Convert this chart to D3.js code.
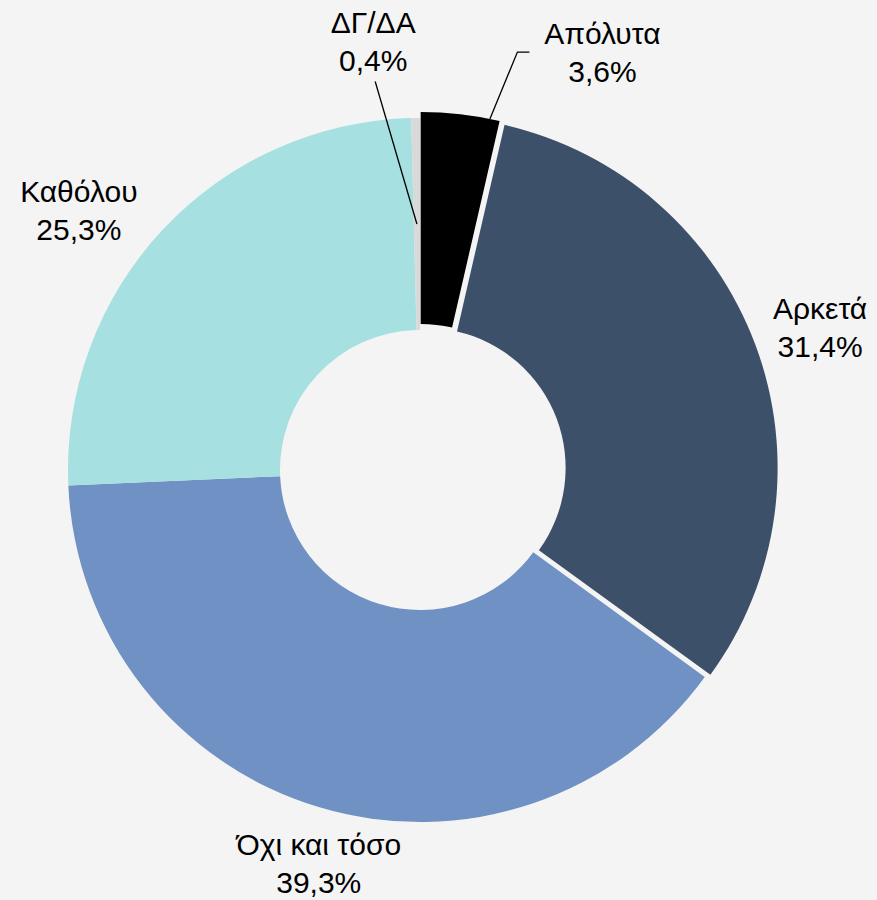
<!DOCTYPE html>
<html>
<head>
<meta charset="utf-8">
<script src="https://cdn.jsdelivr.net/npm/d3@7"></script>
<style>
  html, body { margin: 0; padding: 0; background: #f4f4f4; }
  svg { display: block; }
  .label { font-family: "Liberation Sans", Arial, sans-serif; font-size: 30px; fill: #000; }
</style>
</head>
<body>
<div class="container"></div>
<script>
const categories = ['Απόλυτα', 'Αρκετά', 'Όχι και τόσο', 'Καθόλου', 'ΔΓ/ΔΑ'];
const values = [3.6, 31.4, 39.3, 25.3, 0.4];
const colors = ['#000000', '#3d5069', '#7091c3', '#a6e0e0', '#d9d9d9'];

const width = 877;
const height = 900;
const cx = 420;
const cy = 470;
const outerR = 352;
const innerR = 140;

// slices pulled out from the centre
const explode = [6, 6, 0, 0, 0];
// label placement (angle shift in degrees, radius)
const labelShift = [17.1, 0.8, -2.3, -5.7, -5.5];
const labelR = [456, 425, 406, 429, 432];
const lineGap = 38;

const rad = deg => deg * Math.PI / 180;
const polar = (a, r) => [r * Math.sin(a), -r * Math.cos(a)];
const fmt = v => d3.format('.1f')(v).replace('.', ',') + '%';

const svg = d3.select('.container')
  .append('svg')
  .attr('width', width)
  .attr('height', height);

svg.append('rect')
  .attr('width', width)
  .attr('height', height)
  .attr('fill', '#f4f4f4');

const pie = d3.pie().sort(null).value(d => d);
const arcs = pie(values);

const arc = d3.arc().innerRadius(innerR).outerRadius(outerR);

const g = svg.append('g').attr('transform', `translate(${cx},${cy})`);

g.selectAll('path')
  .data(arcs)
  .enter()
  .append('path')
  .attr('d', arc)
  .attr('fill', (d, i) => colors[i])
  .attr('transform', (d, i) => {
    const mid = (d.startAngle + d.endAngle) / 2;
    const [x, y] = polar(mid, explode[i]);
    return `translate(${x},${y})`;
  });

// labels
const labelPos = arcs.map((d, i) => {
  const mid = (d.startAngle + d.endAngle) / 2 + rad(labelShift[i]);
  return polar(mid, labelR[i]);
});

const labels = g.selectAll('text')
  .data(arcs)
  .enter()
  .append('text')
  .attr('class', 'label')
  .attr('text-anchor', 'middle');

labels.append('tspan')
  .attr('x', (d, i) => labelPos[i][0])
  .attr('y', (d, i) => labelPos[i][1] - 8)
  .text((d, i) => categories[i]);

labels.append('tspan')
  .attr('x', (d, i) => labelPos[i][0])
  .attr('y', (d, i) => labelPos[i][1] - 8 + lineGap)
  .text((d, i) => fmt(values[i]));

// leader line for Απόλυτα
{
  const d = arcs[0];
  const mid = (d.startAngle + d.endAngle) / 2;
  const [ox, oy] = polar(mid, explode[0]);
  const a = mid + (d.endAngle - mid) * 0.75;
  const [sx, sy] = polar(a, outerR);
  const end = [labelPos[0][0] - 73, labelPos[0][1]];
  const elbow = [end[0] - 12, end[1]];
  g.append('polyline')
    .attr('points', [[sx + ox, sy + oy], elbow, end].map(p => p.join(',')).join(' '))
    .attr('fill', 'none')
    .attr('stroke', '#000')
    .attr('stroke-width', 1.3);
}

// leader line for ΔΓ/ΔΑ
{
  const d = arcs[4];
  const mid = (d.startAngle + d.endAngle) / 2;
  const [sx, sy] = polar(mid, (innerR + outerR) / 2);
  const end = [labelPos[4][0] + 2, labelPos[4][1] + 41];
  g.append('line')
    .attr('x1', sx).attr('y1', sy)
    .attr('x2', end[0]).attr('y2', end[1])
    .attr('stroke', '#000')
    .attr('stroke-width', 1.3);
}
</script>
</body>
</html>
